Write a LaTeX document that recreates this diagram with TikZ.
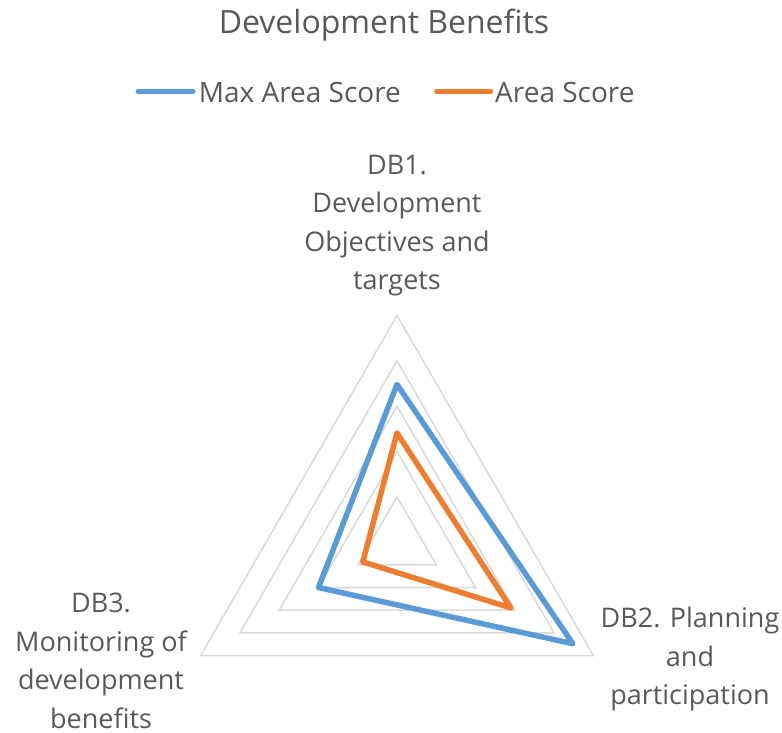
\documentclass[tikz,border=0pt]{standalone}
\usepackage{fontspec}
\setmainfont{Open Sans}
\definecolor{txt}{RGB}{89,89,89}
\definecolor{gridc}{RGB}{217,217,217}
\definecolor{blueS}{RGB}{91,155,213}
\definecolor{orangeS}{RGB}{237,125,49}
\tikzset{
  gridline/.style={draw=gridc, line width=1.5pt, line join=miter},
  series/.style={line width=5.5pt, line join=round, line cap=round},
  lbl/.style={text=txt, inner sep=0pt, align=center, font=\fontsize{27}{38.5}\selectfont},
  legtxt/.style={text=txt, inner sep=0pt, anchor=base west, font=\fontsize{28}{32}\selectfont},
  legline/.style={line width=5pt, line cap=round}
}
\begin{document}
\begin{tikzpicture}[x=1pt,y=1pt]
\useasboundingbox (0,0) rectangle (782,732);
% title
\node[text=txt, inner sep=0pt, anchor=base, font=\fontsize{32}{38}\selectfont] (title) at (384,698.7) {Development Benefits};
% legend
\coordinate (l1a) at (138,640.6);
\coordinate (l1b) at (193,640.6);
\draw[legline, blueS] (l1a) -- (l1b);
\node[legtxt] (leg1) at (198.6,629.6) {Max Area Score};
\coordinate (l2a) at (436.6,640.6);
\coordinate (l2b) at (490.7,640.6);
\draw[legline, orangeS] (l2a) -- (l2b);
\node[legtxt] (leg2) at (495,629.6) {Area Score};
% radar
\begin{scope}[shift={(397,189.8)}]
\foreach \r in {1,...,5}{
  \coordinate (g\r a) at (90:\r*45.34);
  \coordinate (g\r b) at (-30:\r*45.34);
  \coordinate (g\r c) at (210:\r*45.34);
  \draw[gridline] (g\r a) -- (g\r b) -- (g\r c) -- cycle;
}
\coordinate (ba) at (90:3.48*45.34);
\coordinate (bb) at (-30:4.48*45.34);
\coordinate (bc) at (210:2.0*45.34);
\coordinate (oa) at (90:2.41*45.34);
\coordinate (ob) at (-30:2.9*45.34);
\coordinate (oc) at (210:0.87*45.34);
\draw[series, blueS] (ba) -- (bb) -- (bc) -- cycle;
\draw[series, orangeS] (oa) -- (ob) -- (oc) -- cycle;
\end{scope}
% axis labels
\node[lbl, anchor=north] (db1) at (397,577) {DB1.\\Development\\Objectives and\\targets};
\node[lbl, anchor=north] (db2) at (690,125) {DB2. Planning\\and\\participation};
\node[lbl, anchor=north] (db3) at (101,139) {DB3.\\Monitoring of\\development\\benefits};
\end{tikzpicture}
\end{document}
